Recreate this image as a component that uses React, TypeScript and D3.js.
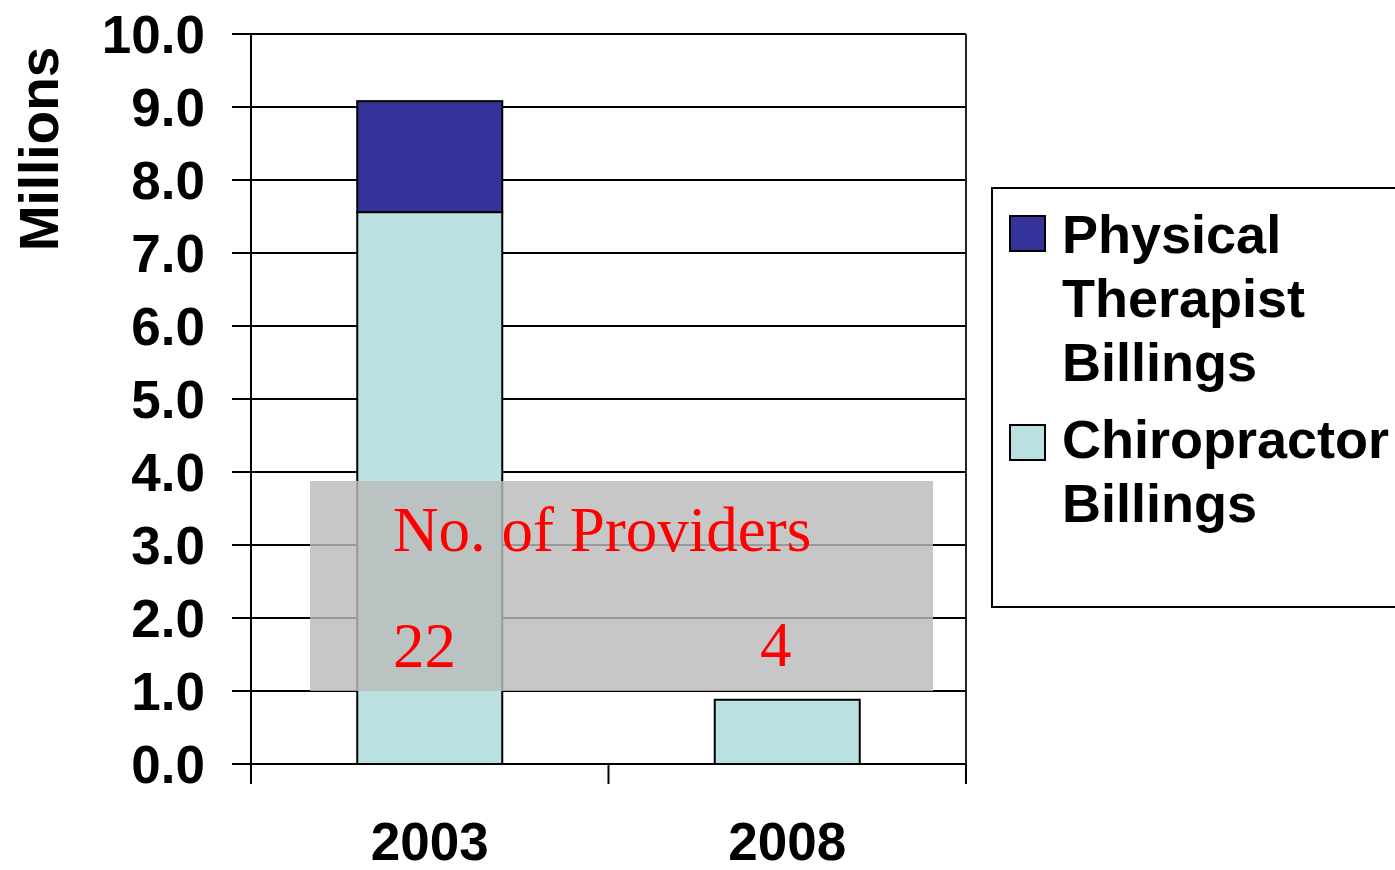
import React from "react";
import * as d3 from "d3";

const categories = ["2003", "2008"];
const chiropractor = [7.56, 0.88];
const physicalTherapist = [1.52, 0];
const yTicks = [0, 1, 2, 3, 4, 5, 6, 7, 8, 9, 10];
const providerCounts = ["22", "4"];
const legendItems = [
  { lines: ["Physical", "Therapist", "Billings"], color: "#333399" },
  { lines: ["Chiropractor", "Billings"], color: "#BAE0E2" },
];

export default function App() {
  const W = 1395, H = 870;
  const left = 251, right = 966, top = 34, bottom = 764;
  const y = d3.scaleLinear().domain([0, 10]).range([bottom, top]);
  const x = d3.scaleBand().domain(categories).range([left, right]).paddingInner(0).paddingOuter(0);
  const barW = 145;
  const sans = "Arial, 'Liberation Sans', Helvetica, sans-serif";
  const serif = "'Times New Roman', 'Liberation Serif', serif";

  const stacked = categories.map((c, i) => ({
    c,
    chiro: chiropractor[i],
    pt: physicalTherapist[i],
  }));

  return (
    <svg width={W} height={H} style={{ position: "absolute", left: 0, top: 0, background: "#fff" }}>
      {yTicks.map((t) => (
        <line key={t} x1={232} x2={right} y1={y(t)} y2={y(t)} stroke="#000" strokeWidth={2} />
      ))}
      <line x1={left} x2={left} y1={top} y2={784} stroke="#000" strokeWidth={2} />
      <line x1={right} x2={right} y1={top} y2={784} stroke="#222" strokeWidth={2} />
      {categories.map((c) => (
        <line key={"t" + c} x1={(x(c) as number) + x.bandwidth()} x2={(x(c) as number) + x.bandwidth()} y1={bottom} y2={784} stroke="#000" strokeWidth={2} />
      ))}
      {stacked.map((d) => {
        const cx = (x(d.c) as number) + x.bandwidth() / 2;
        return (
          <g key={d.c}>
            <rect x={cx - barW / 2} y={y(d.chiro)} width={barW} height={y(0) - y(d.chiro)} fill="#BAE0E2" stroke="#000" strokeWidth={2} />
            {d.pt > 0 && (
              <rect x={cx - barW / 2} y={y(d.chiro + d.pt)} width={barW} height={y(d.chiro) - y(d.chiro + d.pt)} fill="#333399" stroke="#000" strokeWidth={2} />
            )}
          </g>
        );
      })}
      <rect x={310} y={481} width={623} height={210} fill="#bbbbbb" fillOpacity={0.82} />
      <text x={393} y={551} fontFamily={serif} fontSize={63} fill="#ff0000">No. of Providers</text>
      <text x={393} y={667} fontFamily={serif} fontSize={63} fill="#ff0000">{providerCounts[0]}</text>
      <text x={760} y={666} fontFamily={serif} fontSize={63} fill="#ff0000">{providerCounts[1]}</text>
      {yTicks.map((t) => (
        <text key={"l" + t} x={205} y={y(t) + 19} textAnchor="end" fontFamily={sans} fontWeight="bold" fontSize={53} fill="#000">
          {t.toFixed(1)}
        </text>
      ))}
      <text transform="translate(58,149) rotate(-90)" textAnchor="middle" fontFamily={sans} fontWeight="bold" fontSize={55} fill="#000">Millions</text>
      {categories.map((c) => (
        <text key={"x" + c} x={(x(c) as number) + x.bandwidth() / 2} y={860} textAnchor="middle" fontFamily={sans} fontWeight="bold" fontSize={53} fill="#000">
          {c}
        </text>
      ))}
      <rect x={992} y={188} width={430} height={419} fill="#fff" stroke="#000" strokeWidth={2} />
      {legendItems.map((item, i) => {
        const baseY = i === 0 ? 253 : 458;
        const swY = i === 0 ? 216 : 425;
        return (
          <g key={"lg" + i}>
            <rect x={1010} y={swY} width={35} height={35} fill={item.color} stroke="#000" strokeWidth={2} />
            {item.lines.map((ln, j) => (
              <text key={j} x={1062} y={baseY + j * 64} fontFamily={sans} fontWeight="bold" fontSize={54} fill="#000">
                {ln}
              </text>
            ))}
          </g>
        );
      })}
    </svg>
  );
}
